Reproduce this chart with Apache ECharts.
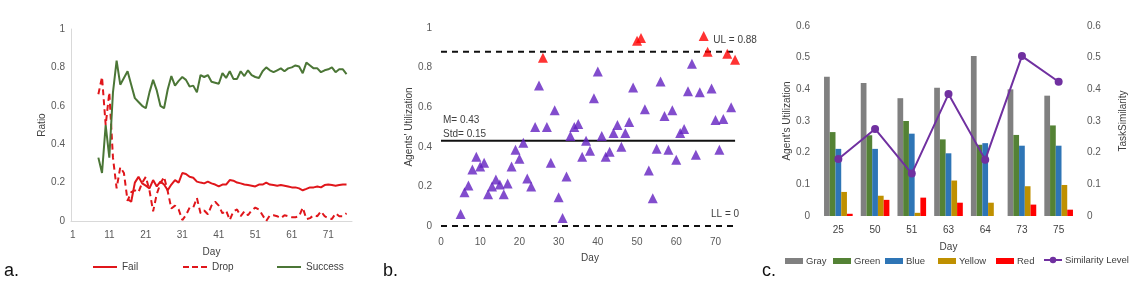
<!DOCTYPE html>
<html><head><meta charset="utf-8">
<script src="https://cdn.jsdelivr.net/npm/echarts@6/dist/echarts.min.js"></script>
<style>html,body{margin:0;padding:0;background:#fff}#c{width:1139px;height:290px}</style>
</head><body><div id="c"></div><script>
// ---------- Panel a: Ratio over days ----------
const daysA = Array.from({length: 77}, (_, i) => String(i + 1));
const successStart = 8;
const successVals = [0.33,0.25,0.50,0.33,0.67,0.835,0.71,0.745,0.78,0.71,0.64,0.62,0.60,0.587,0.67,0.735,0.68,0.60,0.587,0.685,0.755,0.705,0.73,0.75,0.735,0.70,0.705,0.67,0.76,0.75,0.76,0.725,0.72,0.715,0.77,0.745,0.78,0.74,0.74,0.78,0.755,0.785,0.76,0.75,0.745,0.78,0.80,0.785,0.775,0.785,0.795,0.78,0.795,0.80,0.81,0.805,0.77,0.825,0.81,0.795,0.795,0.775,0.785,0.79,0.80,0.775,0.79,0.79,0.765];
const failStart = 16;
const failVals = [0.115,0.10,0.20,0.23,0.196,0.184,0.17,0.213,0.18,0.205,0.19,0.16,0.19,0.213,0.20,0.25,0.245,0.23,0.225,0.205,0.20,0.196,0.205,0.196,0.19,0.18,0.19,0.19,0.213,0.21,0.20,0.196,0.19,0.187,0.184,0.18,0.19,0.19,0.20,0.19,0.187,0.184,0.187,0.184,0.18,0.175,0.175,0.17,0.16,0.167,0.175,0.175,0.18,0.175,0.187,0.19,0.187,0.184,0.187,0.19,0.19];
const dropStart = 8;
const dropVals = [0.66,0.75,0.50,0.67,0.33,0.17,0.28,0.25,0.105,0.15,0.16,0.15,0.20,0.23,0.16,0.05,0.14,0.195,0.23,0.155,0.065,0.08,0.06,0.005,0.03,0.07,0.07,0.12,0.04,0.055,0.035,0.08,0.10,0.08,0.04,0.055,0.005,0.05,0.06,0.025,0.05,0.03,0.055,0.07,0.06,0.03,0.0,0.03,0.03,0.025,0.015,0.03,0.025,0.02,0.02,0.025,0.07,0.01,0.015,0.03,0.025,0.05,0.025,0.015,0.01,0.04,0.025,0.025,0.04];

// ---------- Panel b: Agents' utilization control chart ----------
const utilStart = 5;
const utilVals = [0.06,0.17,0.205,0.285,0.35,0.30,0.32,0.16,0.20,0.235,0.21,0.16,0.215,0.30,0.385,0.34,0.42,0.24,0.20,0.50,0.71,0.85,0.50,0.32,0.585,0.145,0.04,0.25,0.455,0.50,0.515,0.35,0.43,0.38,0.645,0.78,0.455,0.35,0.375,0.47,0.51,0.40,0.47,0.525,0.70,0.935,0.95,0.59,0.28,0.14,0.39,0.73,0.555,0.385,0.585,0.335,0.47,0.49,0.68,0.82,0.36,0.675,0.96,0.88,0.695,0.535,0.385,0.54,0.87,0.60,0.84];
const outlierDays = [26,50,51,67,68,73,75];
const meanVal = 0.43, stdVal = 0.15, ulVal = 0.88, llVal = 0;
const lineSpan = [0, 75];

// ---------- Panel c: bars + similarity ----------
const daysC = ['25','50','51','63','64','73','75'];
const grayVals   = [0.44,0.42,0.372,0.405,0.505,0.40,0.38];
const greenVals  = [0.265,0.255,0.30,0.242,0.225,0.256,0.286];
const blueVals   = [0.212,0.212,0.26,0.198,0.23,0.222,0.222];
const yellowVals = [0.076,0.064,0.01,0.112,0.042,0.094,0.098];
const redVals    = [0.007,0.051,0.058,0.042,0,0.036,0.02];
const simVals    = [0.18,0.275,0.134,0.385,0.178,0.505,0.424];

function pad(start, vals) { return new Array(start - 1).fill(null).concat(vals); }
const purplePts = [], redPts = [];
utilVals.forEach((v, i) => { const d = utilStart + i; (outlierDays.includes(d) ? redPts : purplePts).push([d, v]); });

const FONT = "'Liberation Sans', Arial, sans-serif";
const LBL = '#595959', NAME = '#404040';
const RED = '#e0161b', GREEN = '#4b7636', PURPLE = '#6320c0';
const SOLID_ICON = 'path://M0,0h24v2h-24z';
const DASH_ICON = 'path://M0,0h6v2h-6zM9,0h6v2h-6zM18,0h6v2h-6z';

const chart = echarts.init(document.getElementById('c'), null, {renderer: 'canvas'});
const lbl = (extra) => Object.assign({color: LBL, fontSize: 10, fontFamily: FONT}, extra || {});
const nm = {color: NAME, fontSize: 10, fontFamily: FONT};
const lgText = {color: NAME, fontSize: 9.5, fontFamily: FONT, padding: [0, 0, 0, -2]};
const lg = (data, left, top, w, h, ts) => ({data, left, top, padding: 0, itemWidth: w, itemHeight: h, itemGap: 0, textStyle: ts || nm});

const option = {
  animation: false,
  textStyle: {fontFamily: FONT},
  grid: [
    {left: 71, width: 281, top: 29, height: 192},
    {left: 441, width: 298, top: 28, height: 198},
    {left: 820, width: 257, top: 26, height: 190}
  ],
  xAxis: [
    {gridIndex: 0, type: 'category', data: daysA, boundaryGap: true,
     axisLine: {lineStyle: {color: '#d9d9d9'}}, axisTick: {show: false},
     axisLabel: lbl({interval: 9, margin: 9}), name: 'Day', nameLocation: 'middle', nameGap: 26, nameTextStyle: nm},
    {gridIndex: 1, type: 'value', min: 0, max: 76, interval: 10,
     axisLine: {show: false}, axisTick: {show: false}, splitLine: {show: false},
     axisLabel: lbl({margin: 11, formatter: v => (v % 10 === 0 ? String(v) : '')}),
     name: 'Day', nameLocation: 'middle', nameGap: 27, nameTextStyle: nm},
    {gridIndex: 2, type: 'category', data: daysC,
     axisLine: {show: false}, axisTick: {show: false},
     axisLabel: lbl({color: NAME, margin: 9}), name: 'Day', nameLocation: 'middle', nameGap: 26, nameTextStyle: nm}
  ],
  yAxis: [
    {gridIndex: 0, type: 'value', min: 0, max: 1, interval: 0.2,
     axisLine: {show: true, lineStyle: {color: '#d9d9d9'}}, axisTick: {show: false}, splitLine: {show: false},
     axisLabel: lbl({margin: 6}), name: 'Ratio', nameLocation: 'middle', nameGap: 19, nameRotate: 90, nameTextStyle: nm},
    {gridIndex: 1, type: 'value', min: 0, max: 1, interval: 0.2,
     axisLine: {show: false}, axisTick: {show: false}, splitLine: {show: false},
     axisLabel: lbl({margin: 9}), name: "Agents' Utilization", nameLocation: 'middle', nameGap: 19, nameRotate: 90, nameTextStyle: nm},
    {gridIndex: 2, type: 'value', min: 0, max: 0.6, interval: 0.1,
     axisLine: {show: false}, axisTick: {show: false}, splitLine: {show: false},
     axisLabel: lbl({margin: 10}), name: "Agent's Utilization", nameLocation: 'middle', nameGap: 26, nameRotate: 90, nameTextStyle: nm},
    {gridIndex: 2, type: 'value', position: 'right', min: 0, max: 0.6, interval: 0.1,
     axisLine: {show: false}, axisTick: {show: false}, splitLine: {show: false},
     axisLabel: lbl({margin: 10}), name: 'TaskSimilarity', nameLocation: 'middle', nameGap: 41, nameRotate: 90, nameTextStyle: nm}
  ],
  legend: [
    lg([{name: 'Fail', icon: SOLID_ICON}], 93, 262, 24, 2),
    lg([{name: 'Drop', icon: DASH_ICON}], 183, 262, 24, 2),
    lg([{name: 'Success', icon: SOLID_ICON}], 277, 262, 24, 2),
    lg([{name: 'Gray', icon: 'rect'}], 785, 256, 18, 6, lgText),
    lg([{name: 'Green', icon: 'rect'}], 833, 256, 18, 6, lgText),
    lg([{name: 'Blue', icon: 'rect'}], 885, 256, 18, 6, lgText),
    lg([{name: 'Yellow', icon: 'rect'}], 938, 256, 18, 6, lgText),
    lg([{name: 'Red', icon: 'rect'}], 996, 256, 18, 6, lgText),
    lg(['Similarity Level'], 1043, 255, 18, 8, lgText)
  ],
  graphic: [
    {type: 'text', left: 4, top: 262, style: {text: 'a.', fontSize: 18, fill: '#111', fontFamily: FONT}},
    {type: 'text', left: 383, top: 262, style: {text: 'b.', fontSize: 18, fill: '#111', fontFamily: FONT}},
    {type: 'text', left: 762, top: 262, style: {text: 'c.', fontSize: 18, fill: '#111', fontFamily: FONT}}
  ],
  series: [
    {name: 'Fail', type: 'line', xAxisIndex: 0, yAxisIndex: 0, data: pad(failStart, failVals), symbol: 'none',
     color: RED, lineStyle: {color: RED, width: 2}},
    {name: 'Drop', type: 'line', xAxisIndex: 0, yAxisIndex: 0, data: pad(dropStart, dropVals), symbol: 'none',
     color: RED, lineStyle: {color: RED, width: 2, type: [6, 4]}},
    {name: 'Success', type: 'line', xAxisIndex: 0, yAxisIndex: 0, data: pad(successStart, successVals), symbol: 'none',
     color: GREEN, lineStyle: {color: GREEN, width: 2}},

    {name: 'UL', type: 'line', xAxisIndex: 1, yAxisIndex: 1, data: [[lineSpan[0], ulVal], {value: [lineSpan[1], ulVal],
       label: {show: true, position: 'top', distance: 7, formatter: 'UL = ' + ulVal, color: NAME, fontSize: 10}}],
     symbol: 'circle', symbolSize: 0, showSymbol: true, silent: true,
     lineStyle: {color: '#111', width: 2, type: [6, 5]}},
    {name: 'LL', type: 'line', xAxisIndex: 1, yAxisIndex: 1, data: [[lineSpan[0], llVal], {value: [lineSpan[1], llVal],
       label: {show: true, position: 'top', distance: 7, offset: [-10, 0], formatter: 'LL = ' + llVal, color: NAME, fontSize: 10}}],
     symbol: 'circle', symbolSize: 0, showSymbol: true, silent: true,
     lineStyle: {color: '#111', width: 2, type: [6, 5]}},
    {name: 'Mean', type: 'line', xAxisIndex: 1, yAxisIndex: 1, data: [{value: [lineSpan[0], meanVal],
       label: {show: true, position: 'top', align: 'left', distance: 0, offset: [2, 0], lineHeight: 14,
               formatter: 'M= ' + meanVal + '\nStd= ' + stdVal, color: NAME, fontSize: 10}}, [lineSpan[1], meanVal]],
     symbol: 'circle', symbolSize: 0, showSymbol: true, silent: true,
     lineStyle: {color: '#111', width: 2}},
    {name: 'Util', type: 'scatter', xAxisIndex: 1, yAxisIndex: 1, data: purplePts, symbol: 'triangle', symbolSize: [10, 10],
     itemStyle: {color: PURPLE}, z: 5},
    {name: 'Outlier', type: 'scatter', xAxisIndex: 1, yAxisIndex: 1, data: redPts, symbol: 'triangle', symbolSize: [10, 10],
     itemStyle: {color: '#ff0000'}, z: 5},

    {name: 'Gray', type: 'bar', xAxisIndex: 2, yAxisIndex: 2, data: grayVals, itemStyle: {color: '#808080'}, barGap: '0%', barCategoryGap: '22%'},
    {name: 'Green', type: 'bar', xAxisIndex: 2, yAxisIndex: 2, data: greenVals, itemStyle: {color: '#548235'}, barGap: '0%', barCategoryGap: '22%'},
    {name: 'Blue', type: 'bar', xAxisIndex: 2, yAxisIndex: 2, data: blueVals, itemStyle: {color: '#2e75b6'}, barGap: '0%', barCategoryGap: '22%'},
    {name: 'Yellow', type: 'bar', xAxisIndex: 2, yAxisIndex: 2, data: yellowVals, itemStyle: {color: '#bf9000'}, barGap: '0%', barCategoryGap: '22%'},
    {name: 'Red', type: 'bar', xAxisIndex: 2, yAxisIndex: 2, data: redVals, itemStyle: {color: '#ff0000'}, barGap: '0%', barCategoryGap: '22%'},
    {name: 'Similarity Level', type: 'line', xAxisIndex: 2, yAxisIndex: 3, data: simVals, symbol: 'circle', symbolSize: 8,
     color: '#7030a0', itemStyle: {color: '#7030a0'}, lineStyle: {color: '#7030a0', width: 2}, z: 5}
  ]
};
chart.setOption(option);
</script></body></html>
